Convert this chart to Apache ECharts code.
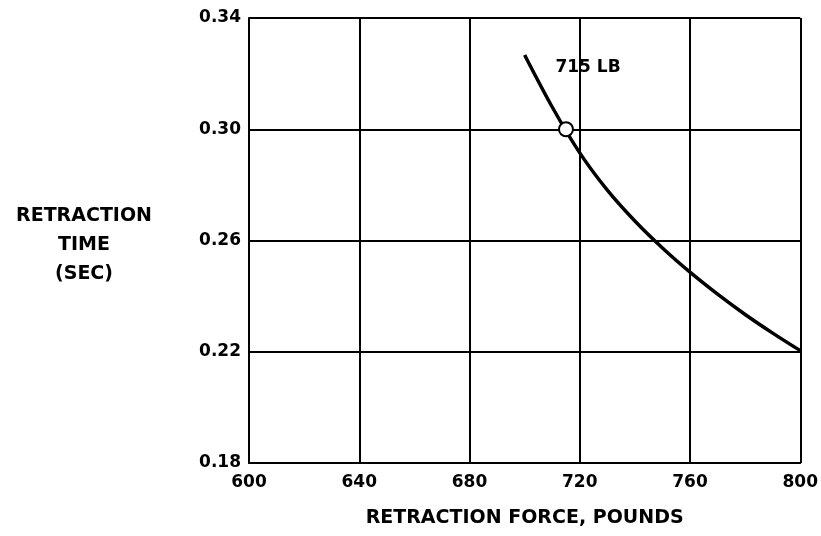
<!DOCTYPE html>
<html lang="en" style="height: 100%">
<head>
<meta charset="utf-8">
<title>Retraction Time vs Retraction Force</title>
</head>
<body style="height: 100%; margin: 0; background: #fff">
<div id="container" style="height: 100%"></div>

<script type="text/javascript" src="https://cdn.jsdelivr.net/npm/echarts/dist/echarts.min.js"></script>

<script type="text/javascript">

// retraction force (lb) and time (sec)
var force = [700, 710, 720, 730, 740, 750, 760, 770, 780, 790, 800];
var time = [0.3267, 0.3080, 0.2915, 0.2781, 0.2670, 0.2573, 0.2486, 0.2407, 0.2334, 0.2267, 0.2204];

// marked design point
var designPoint = [715, 0.300];
var designLabel = '715 LB';
var labelAt = [723, 0.322];

var xTicks = [600, 640, 680, 720, 760, 800];
var yTicks = [0.18, 0.22, 0.26, 0.30, 0.34];

var dom = document.getElementById('container');
var myChart = echarts.init(dom);

var font = 'DejaVu Sans';

var option = {
    animation: false,
    title: {
        text: 'RETRACTION\nTIME\n(SEC)',
        left: 79,
        top: 197,
        textAlign: 'center',
        textStyle: {
            fontFamily: font,
            fontWeight: 'bold',
            fontSize: 19,
            lineHeight: 29,
            color: '#000'
        }
    },
    grid: {
        left: 249,
        right: 20,
        top: 18,
        bottom: 73
    },
    xAxis: {
        type: 'value',
        min: xTicks[0],
        max: xTicks[xTicks.length - 1],
        interval: 40,
        name: 'RETRACTION FORCE, POUNDS',
        nameLocation: 'middle',
        nameGap: 46,
        nameTextStyle: {
            fontFamily: font,
            fontWeight: 'bold',
            fontSize: 19,
            color: '#000'
        },
        axisLine: { lineStyle: { color: '#000', width: 2 } },
        axisTick: { show: false },
        axisLabel: {
            margin: 11,
            fontFamily: font,
            fontWeight: 'bold',
            fontSize: 17,
            color: '#000'
        },
        splitLine: { lineStyle: { color: '#000', width: 2 } }
    },
    yAxis: {
        type: 'value',
        min: yTicks[0],
        max: yTicks[yTicks.length - 1],
        interval: 0.04,
        axisLine: { show: true, lineStyle: { color: '#000', width: 2 } },
        axisTick: { show: false },
        axisLabel: {
            margin: 8,
            fontFamily: font,
            fontWeight: 'bold',
            fontSize: 17,
            color: '#000',
            formatter: function (v) { return v.toFixed(2); }
        },
        splitLine: { lineStyle: { color: '#000', width: 2 } }
    },
    series: [
        {
            type: 'line',
            data: force.map(function (f, i) { return [f, time[i]]; }),
            smooth: 0.3,
            symbol: 'none',
            lineStyle: { color: '#000', width: 3.5 },
            markPoint: {
                symbol: 'circle',
                symbolSize: 0,
                label: {
                    show: true,
                    formatter: designLabel,
                    fontFamily: font,
                    fontWeight: 'bold',
                    fontSize: 17,
                    color: '#000'
                },
                data: [{ coord: labelAt }]
            }
        },
        {
            type: 'scatter',
            data: [designPoint],
            symbol: 'circle',
            symbolSize: 14,
            itemStyle: { color: '#fff', borderColor: '#000', borderWidth: 2, opacity: 1 },
            z: 5
        }
    ]
};

myChart.setOption(option);

window.addEventListener('resize', myChart.resize);
</script>
</body>
</html>
